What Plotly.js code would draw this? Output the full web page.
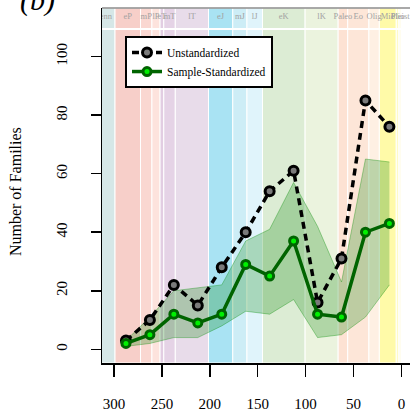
<!DOCTYPE html>
<html>
<head>
<meta charset="utf-8">
<script src="https://cdn.plot.ly/plotly-3.0.1.min.js"></script>
<style>html,body{margin:0;padding:0;background:#fff;}#chart{width:410px;height:414px;}</style>
</head>
<body>
<div id="chart"></div>
<script>
// Bin midpoints (Ma)
const ages = [287.5, 262.5, 237.5, 212.5, 187.5, 162.5, 137.5, 112.5, 87.5, 62.5, 37.5, 12.5];
// Unstandardized family counts
const unstandardized = [3, 10, 22, 15, 28, 40, 54, 61, 16, 31, 85, 76];
// Sample-standardized family counts and confidence envelope
const standardized = [2, 5, 12, 9, 12, 29, 25, 37, 12, 11, 40, 43];
const stdUpper = [3, 11, 20, 21, 22, 37, 41, 57, 42, 23, 65, 64];
const stdLower = [1, 2, 4, 4, 8, 13, 12, 17, 4, 5, 11, 22];

// Geologic time intervals
const periodNames = ["Penn", "eP", "mP", "lP", "eT", "mT", "lT", "eJ", "mJ", "lJ", "eK", "lK", "Paleo", "Eo", "Olig", "Mio", "Plio", "Pleist", ""];
const periodStart = [323.2, 298.9, 272.3, 260.4, 251.9, 248, 236, 201.3, 176, 161.2, 145, 100.5, 66, 56, 33.9, 23, 5.33, 2.58, 0.0117];
const periodEnd   = [298.9, 272.3, 260.4, 251.9, 248, 236, 201.3, 176, 161.2, 145, 100.5, 66, 56, 33.9, 23, 5.33, 2.58, 0.0117, 0];
const periodColors = ["#d6e7e7", "#f7cfc9", "#fad7d1", "#fde3dd", "#e2cde2", "#e5d3e6", "#e8dcea", "#a9e3f3", "#cdedf6", "#e0f4fb", "#dcecd4", "#ebf3de", "#fde2d3", "#fde6d8", "#fef0e3", "#fffaa8", "#fffbc6", "#fffde8", "#fffef2"];

const xTicks = [300, 250, 200, 150, 100, 50, 0];
const yTicks = [0, 20, 40, 60, 80, 100];

const FONT = "Liberation Serif";
const yRange = [-4.68, 116.6];
const stripLevel = 113.4;

const shapes = [];
for (let i = 0; i < periodNames.length; i++) {
  shapes.push({
    type: "rect", layer: "below", xref: "x", yref: "paper",
    x0: periodStart[i], x1: periodEnd[i], y0: 0, y1: 1,
    fillcolor: periodColors[i], line: {color: "#ffffff", width: 1}
  });
}
// white separator under the label strip
shapes.push({type: "line", layer: "below", xref: "paper", yref: "y", x0: 0, x1: 1, y0: 109.4, y1: 109.4, line: {color: "#ffffff", width: 2}});
// top border
shapes.push({type: "line", xref: "paper", yref: "paper", x0: 0, x1: 1, y0: 1, y1: 1, line: {color: "#8c8c8c", width: 1.5}});

const centers = periodStart.map((s, i) => (s + periodEnd[i]) / 2);

const traces = [
  {
    x: ages, y: stdLower, type: "scatter", mode: "lines",
    line: {color: "rgba(0,140,0,0.35)", width: 1}, showlegend: false, hoverinfo: "skip"
  },
  {
    x: ages, y: stdUpper, type: "scatter", mode: "lines", fill: "tonexty",
    fillcolor: "rgba(0,128,0,0.25)",
    line: {color: "rgba(0,140,0,0.35)", width: 1}, showlegend: false, hoverinfo: "skip"
  },
  {
    x: ages, y: unstandardized, type: "scatter", mode: "lines+markers", name: "Unstandardized",
    line: {color: "#000000", width: 3.5, dash: "7px,5px"},
    marker: {symbol: "circle", size: 9, color: "#7a7a7a", line: {color: "#000000", width: 3}}
  },
  {
    x: ages, y: standardized, type: "scatter", mode: "lines+markers", name: "Sample-Standardized",
    line: {color: "#006400", width: 3.5},
    marker: {symbol: "circle", size: 8, color: "#00f000", line: {color: "#006400", width: 3}}
  },
  {
    x: centers, y: centers.map(() => stripLevel), text: periodNames,
    type: "scatter", mode: "text", cliponaxis: true,
    textfont: {family: FONT, size: 8.5, color: "#a3a3a3"},
    showlegend: false, hoverinfo: "skip"
  }
];

const layout = {
  width: 410, height: 414,
  margin: {l: 102, r: 0, t: 8, b: 51, pad: 0},
  paper_bgcolor: "#ffffff", plot_bgcolor: "#ffffff",
  font: {family: FONT, color: "#000000"},
  showlegend: true,
  legend: {
    x: 0.0747, y: 0.921, xanchor: "left", yanchor: "top",
    traceorder: "normal",
    bgcolor: "#ffffff", bordercolor: "#000000", borderwidth: 2,
    font: {family: FONT, size: 11.5, color: "#000000"},
    itemwidth: 30, tracegroupgap: 0
  },
  xaxis: {
    range: [312.5, -9], tickvals: xTicks, ticktext: xTicks.map(String),
    ticks: "outside", ticklen: 12, tickwidth: 1.5, tickcolor: "#000000",
    showline: true, linecolor: "#000000", linewidth: 1.5,
    showgrid: false, zeroline: false,
    tickfont: {family: FONT, size: 15, color: "#000000"},
    ticklabelstandoff: 14
  },
  yaxis: {
    range: yRange, tickvals: yTicks, ticktext: yTicks.map(String),
    ticks: "outside", ticklen: 10, tickwidth: 1.5, tickcolor: "#000000",
    tickangle: -90,
    showline: true, linecolor: "#000000", linewidth: 1.5,
    showgrid: false, zeroline: false,
    tickfont: {family: FONT, size: 15, color: "#000000"},
    ticklabelstandoff: 18
  },
  shapes: shapes,
  annotations: [
    {
      text: "Number of Families", xref: "paper", yref: "paper",
      x: -0.279, y: 0.4817, xanchor: "center", yanchor: "middle",
      textangle: -90, showarrow: false,
      font: {family: FONT, size: 16, color: "#000000"}
    },
    {
      text: "<i>(b)</i>", xref: "paper", yref: "paper",
      x: -0.211, y: 1.0225, xanchor: "center", yanchor: "middle",
      showarrow: false,
      font: {family: FONT, size: 30, color: "#000000"}
    }
  ]
};

Plotly.newPlot("chart", traces, layout, {displayModeBar: false, staticPlot: true});
</script>
</body>
</html>
